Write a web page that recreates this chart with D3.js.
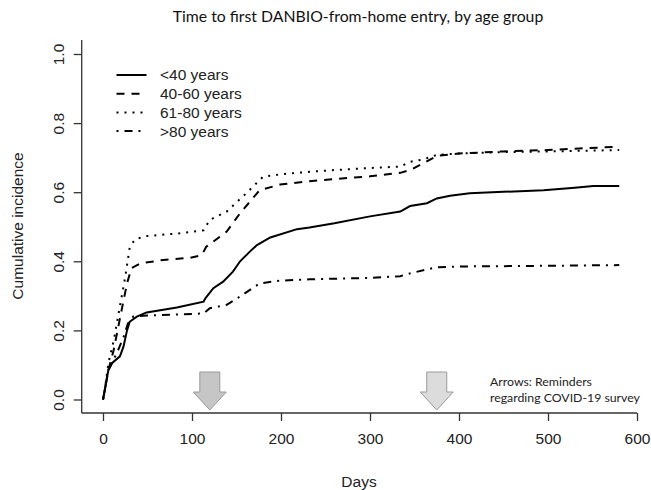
<!DOCTYPE html>
<html><head><meta charset="utf-8">
<script src="https://cdn.jsdelivr.net/npm/d3@7"></script>
<style>
body{margin:0;background:#fff;}
svg{display:block;}
</style></head>
<body><svg id="chart" width="651" height="490"></svg>
<script>
// ---- data (days, cumulative incidence) ----
const seriesNames = ["<40 years", "40-60 years", "61-80 years", ">80 years"];
const under40 = [[0,0],[2,0.027],[6,0.085],[10,0.105],[19,0.125],[23,0.153],[27,0.2],[30,0.225],[38,0.24],[49,0.252],[83,0.266],[113,0.283],[115,0.293],[124,0.322],[135,0.341],[146,0.37],[154,0.40],[165,0.428],[173,0.447],[188,0.469],[218,0.493],[232,0.498],[260,0.51],[300,0.53],[334,0.544],[345,0.56],[364,0.568],[375,0.582],[390,0.59],[412,0.597],[450,0.601],[495,0.606],[530,0.613],[551,0.618],[580,0.618]];
const age40to60 = [[0,0],[2,0.027],[6,0.085],[12,0.143],[21,0.26],[27,0.336],[32,0.38],[42,0.394],[68,0.404],[98,0.41],[111,0.418],[116,0.442],[139,0.486],[154,0.539],[176,0.606],[199,0.622],[232,0.632],[260,0.638],[300,0.646],[334,0.656],[345,0.664],[360,0.684],[375,0.705],[400,0.712],[450,0.718],[500,0.722],[540,0.727],[580,0.732]];
const age61to80 = [[0,0],[2,0.027],[6,0.105],[12,0.17],[19,0.27],[25,0.355],[30,0.44],[36,0.464],[49,0.473],[86,0.481],[113,0.49],[120,0.52],[139,0.544],[161,0.597],[180,0.645],[200,0.652],[232,0.659],[260,0.664],[300,0.67],[334,0.674],[345,0.688],[360,0.695],[375,0.708],[400,0.712],[450,0.716],[500,0.718],[540,0.72],[580,0.722]];
const over80 = [[0,0],[2,0.027],[6,0.085],[10,0.105],[17,0.143],[23,0.18],[28,0.22],[34,0.24],[49,0.243],[113,0.249],[120,0.264],[139,0.274],[154,0.298],[176,0.336],[199,0.344],[232,0.348],[300,0.352],[334,0.357],[345,0.365],[375,0.383],[400,0.385],[500,0.387],[580,0.389]];
const xTicks = [0,100,200,300,400,500,600];
const yTicks = [0,0.2,0.4,0.6,0.8,1.0];
const reminderDays = [120, 375];

const svg = d3.select("#chart");
const plot = {left:81.7, right:637, top:40, bottom:413};
const x = d3.scaleLinear().domain([0,600]).range([103,637]);
const y = d3.scaleLinear().domain([0,1]).range([399.5,54]);
const axisFont = "'Liberation Sans', Arial, sans-serif";
const noteFont = "Lato, 'Open Sans', sans-serif";

// title
svg.append("text").attr("x",358).attr("y",22).attr("text-anchor","middle")
  .style("font-family",noteFont).style("font-size","15.8px").attr("fill","#111")
  .text("Time to first DANBIO-from-home entry, by age group");

// box lines (L shape)
svg.append("line").attr("x1",plot.left).attr("x2",plot.left).attr("y1",plot.top).attr("y2",plot.bottom)
  .attr("stroke","#333").attr("stroke-width",1.3);
svg.append("line").attr("x1",plot.left).attr("x2",plot.right).attr("y1",plot.bottom).attr("y2",plot.bottom)
  .attr("stroke","#333").attr("stroke-width",1.3);

// x axis
const gx = svg.append("g").attr("transform",`translate(0,${plot.bottom})`)
  .call(d3.axisBottom(x).tickValues(xTicks).tickFormat(d3.format("d")).tickSize(8).tickPadding(12));
gx.select(".domain").remove();
gx.selectAll("line").attr("stroke","#333").attr("stroke-width",1.3);
gx.selectAll("text").style("font-family",axisFont).style("font-size","15.5px").attr("fill","#222");

// y axis
const gy = svg.append("g").attr("transform",`translate(${plot.left},0)`)
  .call(d3.axisLeft(y).tickValues(yTicks).tickFormat(d3.format(".1f")).tickSize(8));
gy.select(".domain").remove();
gy.selectAll("line").attr("stroke","#333").attr("stroke-width",1.3);
gy.selectAll("text").attr("x",null).attr("dy",null).attr("text-anchor","middle")
  .attr("transform","translate(-23,0) rotate(-90)").attr("dy","0.35em")
  .style("font-family",axisFont).style("font-size","15.5px").attr("fill","#222");

// axis titles
svg.append("text").attr("x",359).attr("y",487).attr("text-anchor","middle")
  .style("font-family",axisFont).style("font-size","15.5px").attr("fill","#222").text("Days");
svg.append("text").attr("transform","translate(23,226) rotate(-90)").attr("text-anchor","middle")
  .style("font-family",axisFont).style("font-size","15.5px").attr("fill","#222").text("Cumulative incidence");

// curves
const dashes = [null, "8,7", "2,6", "2,6,8,6"];
const allSeries = [under40, age40to60, age61to80, over80];
const line = d3.line().x(d=>x(d[0])).y(d=>y(d[1])).curve(d3.curveLinear);
allSeries.forEach((s,i)=>{
  svg.append("path").datum(s).attr("d",line).attr("fill","none")
    .attr("stroke","#000").attr("stroke-width",2)
    .attr("stroke-dasharray",dashes[i]);
});

// legend
seriesNames.forEach((n,i)=>{
  const ly = 75 + i*18.7;
  svg.append("line").attr("x1",116.5).attr("x2",146.5).attr("y1",ly).attr("y2",ly)
    .attr("stroke","#000").attr("stroke-width",2).attr("stroke-dasharray",dashes[i]);
  svg.append("text").attr("x",160).attr("y",ly).attr("dy","0.35em")
    .style("font-family",axisFont).style("font-size","15.5px").attr("fill","#222").text(n);
});

// reminder arrows
const arrowFills = ["#c6c6c6","#dcdcdc"];
reminderDays.forEach((d,i)=>{
  const cx = x(d), top=372, sh=392, tip=410, bw=10, hw=16.5;
  const pts = [[cx-bw,top],[cx+bw,top],[cx+bw,sh],[cx+hw,sh],[cx,tip],[cx-hw,sh],[cx-bw,sh]];
  svg.append("polygon").attr("points",pts.map(p=>p.join(",")).join(" "))
    .attr("fill",arrowFills[i]).attr("stroke","#9a9a9a").attr("stroke-width",1);
});

// annotation
const note = svg.append("text").style("font-family",noteFont).style("font-size","12.3px").attr("fill","#222");
note.append("tspan").attr("x",490).attr("y",386).text("Arrows: Reminders");
note.append("tspan").attr("x",490).attr("y",402).text("regarding COVID-19 survey");
</script></body></html>
